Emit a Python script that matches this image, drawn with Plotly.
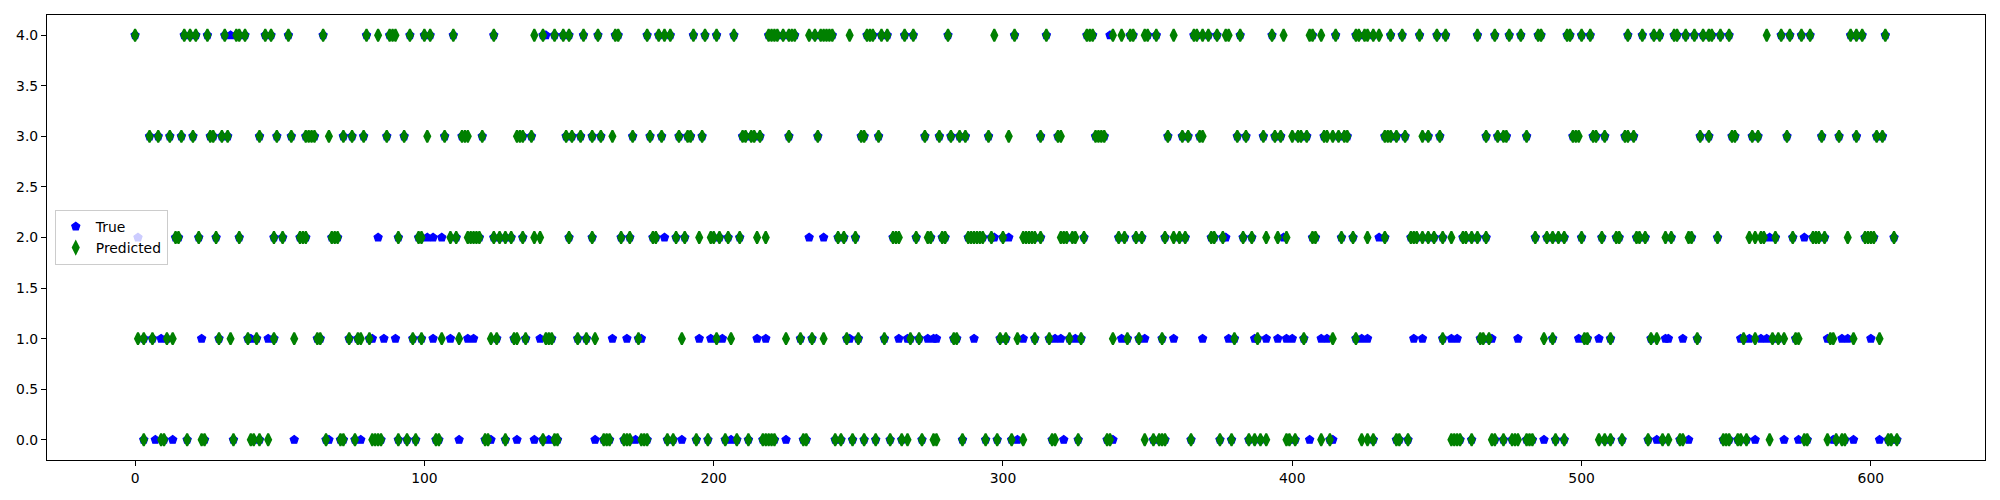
import plotly.graph_objects as go

# Predicted class (green diamonds): sample indices at each class level
pred_idx_0 = [3, 9, 10, 18, 23, 24, 34, 40, 41, 43, 46, 66, 71, 72, 76, 82, 83, 84, 85, 91, 94, 97,
              104, 105, 121, 122, 128, 141, 145, 146, 162, 163, 164, 169, 170, 171, 175, 176, 177, 184,
              186, 194, 198, 204, 208, 212, 217, 218, 219, 220, 221, 231, 232, 242, 244, 248, 252, 256,
              261, 265, 267, 272, 276, 277, 286, 294, 298, 303, 307, 317, 318, 326, 336, 337, 349, 352,
              354, 355, 356, 365, 375, 379, 385, 387, 389, 391, 398, 399, 401, 410, 413, 424, 426, 428,
              436, 437, 440, 455, 456, 457, 458, 462, 469, 470, 473, 476, 477, 478, 481, 482, 483, 491,
              494, 506, 508, 510, 514, 523, 528, 530, 534, 535, 549, 550, 551, 554, 555, 557, 565, 577,
              578, 585, 588, 590, 591, 606, 607, 609]
pred_idx_1 = [1, 3, 6, 11, 13, 29, 33, 39, 42, 48, 55, 63, 64, 74, 77, 78, 81, 96, 99, 106, 112, 123,
              125, 131, 132, 135, 142, 143, 144, 153, 156, 159, 174, 189, 201, 206, 225, 230, 234, 238,
              246, 250, 259, 268, 271, 283, 284, 299, 301, 305, 311, 316, 323, 327, 338, 343, 347, 355,
              380, 388, 404, 414, 422, 452, 465, 466, 468, 487, 490, 501, 502, 510, 524, 526, 540, 556,
              560, 566, 568, 570, 574, 575, 586, 587, 594, 603]
pred_idx_2 = [14, 15, 22, 28, 36, 48, 51, 57, 58, 59, 68, 69, 70, 91, 98, 99, 109, 111, 115, 116, 117,
              118, 119, 124, 126, 128, 130, 134, 138, 140, 150, 158, 168, 171, 179, 180, 187, 190, 195,
              199, 200, 202, 205, 209, 215, 218, 243, 245, 249, 262, 263, 264, 270, 274, 275, 279, 280,
              288, 289, 290, 291, 292, 293, 296, 300, 307, 308, 309, 310, 311, 313, 320, 321, 322, 324,
              325, 328, 340, 342, 346, 348, 356, 359, 361, 363, 372, 373, 376, 383, 386, 391, 395, 398,
              407, 408, 417, 421, 426, 432, 441, 442, 443, 445, 447, 449, 452, 455, 459, 460, 462, 464,
              467, 484, 488, 490, 492, 494, 500, 507, 512, 513, 519, 520, 522, 529, 531, 537, 538, 547,
              558, 560, 562, 563, 567, 573, 580, 581, 582, 584, 592, 598, 599, 600, 601, 608]
pred_idx_3 = [5, 8, 12, 16, 20, 26, 27, 30, 32, 43, 49, 54, 59, 60, 61, 62, 67, 72, 75, 79, 87, 93, 101,
              107, 113, 114, 115, 120, 132, 133, 134, 137, 149, 151, 154, 158, 161, 165, 172, 178, 182,
              188, 191, 192, 196, 210, 211, 213, 214, 216, 226, 236, 251, 252, 257, 273, 278, 282, 285,
              287, 295, 302, 313, 319, 320, 332, 333, 334, 335, 357, 362, 364, 368, 369, 381, 384, 390,
              394, 396, 400, 402, 403, 405, 411, 412, 414, 416, 418, 419, 432, 433, 434, 436, 439, 445,
              447, 451, 467, 471, 473, 474, 481, 497, 498, 499, 504, 505, 508, 515, 516, 518, 541, 544,
              552, 553, 559, 561, 571, 583, 589, 595, 602, 604]
pred_idx_4 = [0, 17, 19, 21, 25, 31, 35, 36, 38, 45, 47, 53, 65, 80, 84, 88, 89, 90, 95, 100, 102, 110,
              124, 138, 141, 145, 148, 150, 155, 160, 166, 167, 177, 181, 183, 185, 193, 197, 201, 207,
              219, 220, 221, 222, 224, 226, 227, 228, 233, 235, 237, 238, 239, 240, 241, 247, 253, 254,
              255, 258, 260, 266, 269, 281, 297, 304, 315, 329, 330, 331, 338, 341, 344, 345, 349, 350,
              353, 359, 366, 367, 369, 371, 374, 377, 378, 382, 393, 397, 406, 407, 410, 415, 422, 423,
              425, 426, 428, 430, 434, 438, 444, 450, 453, 464, 470, 475, 479, 485, 486, 495, 496, 500,
              503, 516, 521, 525, 527, 532, 533, 536, 539, 542, 544, 545, 548, 551, 564, 569, 572, 576,
              579, 593, 595, 597, 605]

# True class where it differs from the prediction (blue pentagons that stay visible)
miss_idx_0 = [7, 13, 55, 67, 78, 112, 123, 132, 138, 143, 159, 173, 189, 206, 225, 305, 321, 338, 406,
              414, 487, 526, 537, 560, 570, 575, 587, 594, 603]
miss_idx_1 = [9, 23, 40, 46, 82, 86, 90, 103, 109, 115, 117, 140, 165, 170, 175, 195, 199, 203, 215,
              218, 247, 264, 267, 274, 276, 277, 290, 307, 318, 320, 325, 341, 349, 359, 369, 378, 387,
              391, 395, 398, 400, 410, 412, 424, 426, 442, 445, 455, 457, 469, 478, 499, 506, 529, 530,
              535, 555, 558, 562, 564, 585, 590, 592, 600]
miss_idx_2 = [1, 84, 101, 103, 106, 183, 233, 238, 297, 302, 377, 397, 430, 565, 577]
miss_idx_3 = []
miss_idx_4 = [33, 142, 337]

class_levels = [0, 1, 2, 3, 4]
x_ticks = [0, 100, 200, 300, 400, 500, 600]
y_ticks = [0.0, 0.5, 1.0, 1.5, 2.0, 2.5, 3.0, 3.5, 4.0]

pred_lists = [pred_idx_0, pred_idx_1, pred_idx_2, pred_idx_3, pred_idx_4]
miss_lists = [miss_idx_0, miss_idx_1, miss_idx_2, miss_idx_3, miss_idx_4]
miss_set = set(i for lst in miss_lists for i in lst)

pred_x, pred_y = [], []
true_x, true_y = [], []
for lvl, lst in zip(class_levels, pred_lists):
    for i in lst:
        pred_x.append(i)
        pred_y.append(lvl)
        if i not in miss_set:
            true_x.append(i)
            true_y.append(lvl)
for lvl, lst in zip(class_levels, miss_lists):
    for i in lst:
        true_x.append(i)
        true_y.append(lvl)

fig = go.Figure()
fig.add_trace(go.Scatter(
    x=true_x, y=true_y, mode="markers", name="True",
    marker=dict(symbol="pentagon", size=8.5, color="blue",
                line=dict(color="blue", width=1.2)),
))
fig.add_trace(go.Scatter(
    x=pred_x, y=pred_y, mode="markers", name="Predicted",
    marker=dict(symbol="diamond-tall", size=8.5, color="green",
                line=dict(color="green", width=2)),
))

axis_common = dict(
    showline=True, linecolor="black", linewidth=1.1, mirror=True,
    showgrid=False, zeroline=False, ticks="outside", ticklen=5, tickwidth=1.1,
    tickcolor="black", tickfont=dict(family="DejaVu Sans", size=13.9, color="black"),
)
fig.update_xaxes(range=[-30.45, 639.45], tickvals=x_ticks, **axis_common)
fig.update_yaxes(range=[-0.2, 4.2], tickvals=y_ticks, tickformat=".1f", **axis_common)

# page body has an 8px default margin: size the figure so the plot frame lands
# at the same place as in the reference
fig.update_layout(
    width=1984, height=484,
    margin=dict(l=39, r=7, t=7, b=32, autoexpand=False),
    plot_bgcolor="white", paper_bgcolor="white",
    font=dict(family="DejaVu Sans", size=13.9, color="black"),
    showlegend=True,
    legend=dict(x=0.004, y=0.5, xanchor="left", yanchor="middle",
                bgcolor="rgba(255,255,255,0.8)", bordercolor="#cccccc", borderwidth=1,
                font=dict(family="DejaVu Sans", size=13.9, color="black"),
                tracegroupgap=0),
)

fig.write_html("out.html")
